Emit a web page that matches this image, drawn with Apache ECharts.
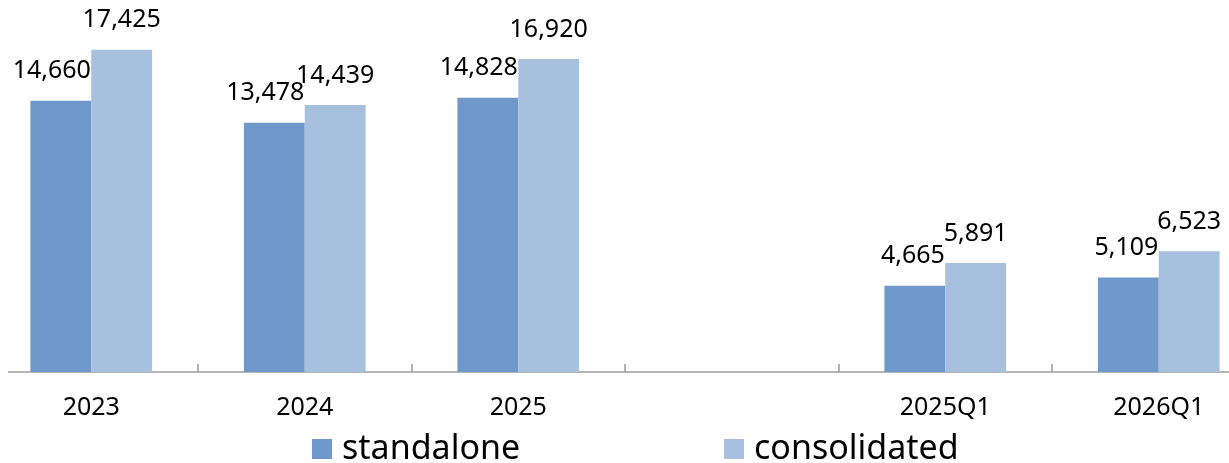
<!DOCTYPE html>
<html>
<head>
<meta charset="utf-8">
<title>standalone vs consolidated</title>
<script src="https://cdn.jsdelivr.net/npm/echarts@6/dist/echarts.min.js"></script>
<style>
  html, body { margin: 0; padding: 0; background: #ffffff; }
  #chart { width: 1229px; height: 463px; }
</style>
</head>
<body>
<div id="chart"></div>
<script>
// Periods on the category axis (the empty slot separates annual from quarterly figures)
const categories = ['2023', '2024', '2025', '', '2025Q1', '2026Q1'];
const standalone = [14660, 13478, 14828, null, 4665, 5109];
const consolidated = [17425, 14439, 16920, null, 5891, 6523];
const seriesNames = ['standalone', 'consolidated'];

const FONT = '"Noto Sans", "Liberation Sans", sans-serif';
const fmt = p => (p.value == null ? '' : Number(p.value).toLocaleString('en-US'));

const chart = echarts.init(document.getElementById('chart'), null, { renderer: 'canvas' });

chart.setOption({
  animation: false,
  backgroundColor: '#ffffff',
  grid: { left: -15.5, right: -36.5, top: 2, bottom: 91, containLabel: false, outerBoundsMode: 'none' },
  legend: [
    {
      data: [seriesNames[0]],
      left: 307, top: 427,
      itemWidth: 20, itemHeight: 20,
      icon: 'rect',
      textStyle: { fontFamily: FONT, fontSize: 34, color: '#000', padding: [0, 0, 0, 5] }
    },
    {
      data: [seriesNames[1]],
      left: 719, top: 427,
      itemWidth: 20, itemHeight: 20,
      icon: 'rect',
      textStyle: { fontFamily: FONT, fontSize: 34, color: '#000', padding: [0, 0, 0, 5] }
    }
  ],
  xAxis: {
    type: 'category',
    data: categories,
    axisLine: { show: true, lineStyle: { color: '#9c9c9c', width: 1.5 } },
    axisTick: { show: true, inside: true, length: 8, lineStyle: { color: '#9c9c9c', width: 1.5 } },
    axisLabel: { fontFamily: FONT, fontSize: 25, color: '#000', margin: 23 },
    splitLine: { show: false }
  },
  yAxis: {
    type: 'value',
    min: 0, max: 20000,
    show: false,
    splitLine: { show: false }
  },
  series: [
    {
      name: seriesNames[0],
      type: 'bar',
      data: standalone,
      barWidth: '28.5%',
      barGap: '0%',
      itemStyle: { color: '#7099cb' },
      label: {
        show: true, position: 'top', distance: 17,
        align: 'right', offset: [30, 0],
        fontFamily: FONT, fontSize: 25, color: '#000',
        formatter: fmt
      }
    },
    {
      name: seriesNames[1],
      type: 'bar',
      data: consolidated,
      barWidth: '28.5%',
      barGap: '0%',
      itemStyle: { color: '#a7c0de' },
      label: {
        show: true, position: 'top', distance: 17,
        fontFamily: FONT, fontSize: 25, color: '#000',
        formatter: fmt
      }
    }
  ],
  graphic: [
    // axis line begins at the plot edge, not at the first category boundary
    { type: 'rect', left: 0, top: 366, shape: { width: 8, height: 12 }, style: { fill: '#ffffff' }, z: 100 }
  ]
});
</script>
</body>
</html>
